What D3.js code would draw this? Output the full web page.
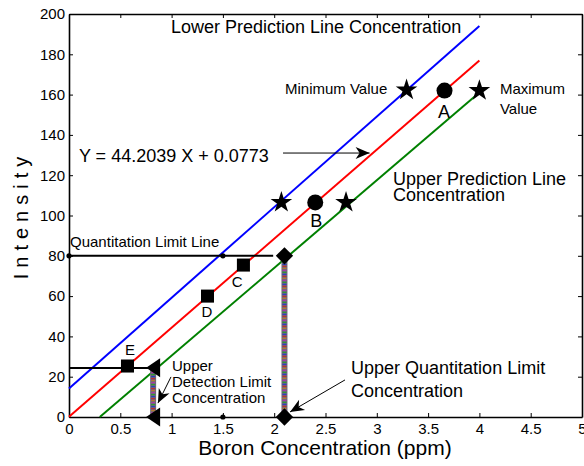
<!DOCTYPE html>
<html><head><meta charset="utf-8">
<script src="https://cdn.jsdelivr.net/npm/d3@7"></script>
<style>
body{margin:0;background:#fff;}
svg{display:block;font-family:"Liberation Sans",Arial,sans-serif;}
</style></head>
<body><svg id="c" width="584" height="466"></svg>
<script>
// ---- data ----
const xTicks = [0,0.5,1,1.5,2,2.5,3,3.5,4,4.5,5];
const yTicks = [0,20,40,60,80,100,120,140,160,180,200];
const redLine   = [[0,0.08],[4,176.9]];
const blueLine  = [[0,14.2],[4,194.1]];
const greenLine = [[0.3,0],[4,161]];
const quantLine = [[0,80],[1.99,80]];
const detLine   = [[0,24.3],[0.8,24.3]];
const detBar    = [[0.82,24.3],[0.82,0]];
const quantBar  = [[2.1,80],[2.1,0]];
const stars     = [[2.07,106.5],[2.7,106.5],[3.29,162.3],[4.0,162]];
const circles   = [[2.4,106.5],[3.66,162]];
const squares   = [[0.57,25.3],[1.35,60],[1.7,75.4]];
const diamonds  = [[2.1,80],[2.1,0]];
const triangles = [[0.82,24.5],[0.82,0]];
const dots      = [[0,80],[1.5,80],[1.5,0]];
const arrows    = [[[2.086,131],[2.93,131]],[[0.994,19.9],[0.867,6.9]],[[2.69,18.4],[2.154,2.5]]];
const labels = [
  {t:"Lower Prediction Line Concentration", x:0.994, y:190.6, s:18, a:"start"},
  {t:"Minimum Value", x:2.105, y:160.1, s:15, a:"start"},
  {t:"Maximum", x:4.2, y:160.1, s:15, a:"start"},
  {t:"Value", x:4.2, y:150.6, s:15, a:"start"},
  {t:"A", x:3.655, y:148.2, s:18, a:"middle"},
  {t:"B", x:2.41, y:94.3, s:18, a:"middle"},
  {t:"C", x:1.64, y:64.5, s:15, a:"middle"},
  {t:"D", x:1.345, y:49.6, s:15, a:"middle"},
  {t:"E", x:0.595, y:30.8, s:15, a:"middle"},
  {t:"Y = 44.2039 X + 0.0773", x:0.097, y:126.6, s:18, a:"start"},
  {t:"Upper Prediction Line", x:3.158, y:115.1, s:18, a:"start"},
  {t:"Concentration", x:3.158, y:107.0, s:18, a:"start"},
  {t:"Quantitation Limit Line", x:0.01, y:84.4, s:15, a:"start"},
  {t:"Upper", x:1.004, y:22.8, s:15, a:"start"},
  {t:"Detection Limit", x:1.004, y:14.9, s:15, a:"start"},
  {t:"Concentration", x:1.004, y:6.9, s:15, a:"start"},
  {t:"Upper Quantitation Limit", x:2.749, y:21.3, s:18, a:"start"},
  {t:"Concentration", x:2.749, y:9.9, s:18, a:"start"}
];
const xTitle = "Boron Concentration (ppm)";
const yTitle = "Intensity";

// ---- chart ----
const svg = d3.select("#c");
const x = d3.scaleLinear().domain([0,5]).range([69,582]);
const y = d3.scaleLinear().domain([0,200]).range([417,14]);
const line = d3.line().x(d=>x(d[0])).y(d=>y(d[1]));

// axes
const fmt = d => String(d);
svg.append("g").attr("transform","translate(0,417)")
  .call(d3.axisBottom(x).tickValues(xTicks).tickFormat(fmt).tickSize(-4).tickSizeOuter(0).tickPadding(6));
svg.append("g").attr("transform","translate(69,0)")
  .call(d3.axisLeft(y).tickValues(yTicks).tickFormat(fmt).tickSize(-4).tickSizeOuter(0).tickPadding(4));
svg.append("g").attr("transform","translate(0,14)")
  .call(d3.axisTop(x).tickValues(xTicks).tickFormat("").tickSize(-4).tickSizeOuter(0));
svg.append("g").attr("transform","translate(582,0)")
  .call(d3.axisRight(y).tickValues(yTicks).tickFormat("").tickSize(-4).tickSizeOuter(0));
svg.selectAll(".domain").attr("stroke","#000").attr("stroke-width",1.6);
svg.selectAll(".tick line").attr("stroke","#000").attr("stroke-width",1);
svg.selectAll(".tick text").attr("font-size",15).attr("fill","#000").attr("font-family","Liberation Sans, Arial, sans-serif");

// lines
svg.append("path").attr("d",line(blueLine)).attr("stroke","#0000ff").attr("stroke-width",2).attr("fill","none");
svg.append("path").attr("d",line(redLine)).attr("stroke","#ff0000").attr("stroke-width",2).attr("fill","none");
svg.append("path").attr("d",line(greenLine)).attr("stroke","#008000").attr("stroke-width",2).attr("fill","none");
svg.append("path").attr("d",line(quantLine)).attr("stroke","#000").attr("stroke-width",2).attr("fill","none");
svg.append("path").attr("d",line(detLine)).attr("stroke","#000").attr("stroke-width",2).attr("fill","none");

// striped vertical bars
[detBar, quantBar].forEach(b=>{
  svg.append("path").attr("d",line(b)).attr("stroke","#6e6a7a").attr("stroke-width",6).attr("fill","none");
  const cols = ["#d02020","#2030d0","#20a020","#b030b0","#c08020"];
  cols.forEach((c,i)=>{
    svg.append("path").attr("d",line(b)).attr("stroke",c).attr("stroke-width",4)
      .attr("stroke-dasharray","1.2 8.8").attr("stroke-dashoffset",i*2).attr("fill","none").attr("opacity",0.8);
  });
});

// arrows
arrows.forEach(a=>{
  const x1=x(a[0][0]), y1=y(a[0][1]), x2=x(a[1][0]), y2=y(a[1][1]);
  svg.append("line").attr("x1",x1).attr("y1",y1).attr("x2",x2).attr("y2",y2)
    .attr("stroke","#000").attr("stroke-width",1);
  const ang = Math.atan2(y2-y1,x2-x1)*180/Math.PI;
  svg.append("path").attr("d","M0,0 L-14,-6 L-10,0 L-14,6 Z").attr("fill","#000")
    .attr("transform",`translate(${x2},${y2}) rotate(${ang})`);
});

// markers
svg.selectAll(".dot").data(dots).join("circle").attr("cx",d=>x(d[0])).attr("cy",d=>y(d[1])).attr("r",2.6).attr("fill","#000");
svg.selectAll(".star").data(stars).join("path")
  .attr("d",d3.symbol(d3.symbolStar,145)).attr("fill","#000")
  .attr("transform",d=>`translate(${x(d[0])},${y(d[1])})`);
svg.selectAll(".circ").data(circles).join("circle").attr("cx",d=>x(d[0])).attr("cy",d=>y(d[1])).attr("r",8).attr("fill","#000");
svg.selectAll(".sq").data(squares).join("path")
  .attr("d",d3.symbol(d3.symbolSquare,170)).attr("fill","#000")
  .attr("transform",d=>`translate(${x(d[0])},${y(d[1])})`);
svg.selectAll(".dia").data(diamonds).join("path")
  .attr("d",d3.symbol(d3.symbolSquare,150)).attr("fill","#000")
  .attr("transform",d=>`translate(${x(d[0])},${y(d[1])}) rotate(45)`);
svg.selectAll(".tri").data(triangles).join("path")
  .attr("d","M-7,0 L7,-9.5 L7,9.5 Z").attr("fill","#000")
  .attr("transform",d=>`translate(${x(d[0])},${y(d[1])})`);

// labels
svg.selectAll(".lbl").data(labels).join("text")
  .attr("x",d=>x(d.x)).attr("y",d=>y(d.y)).attr("font-size",d=>d.s)
  .attr("text-anchor",d=>d.a).attr("fill","#000").text(d=>d.t);

svg.append("text").attr("x",325).attr("y",455).attr("text-anchor","middle").attr("font-size",21).text(xTitle);
svg.append("text").attr("transform","translate(28,215) rotate(-90)").attr("text-anchor","middle")
  .attr("font-size",20).attr("letter-spacing","6px").text(yTitle);
</script></body></html>
